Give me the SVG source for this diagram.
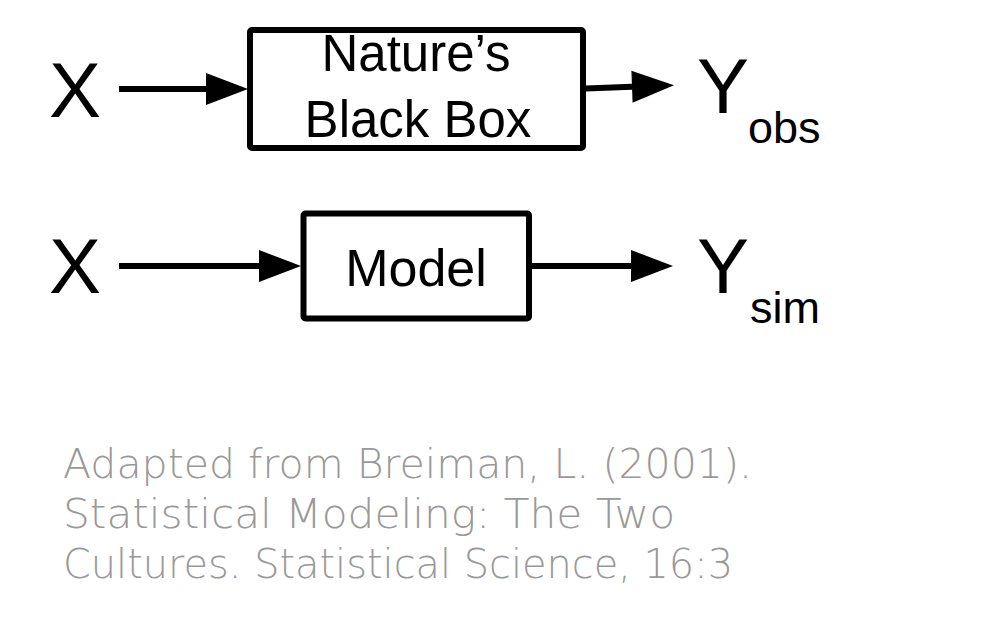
<svg xmlns="http://www.w3.org/2000/svg" width="1008" height="620" viewBox="0 0 1008 620">
<defs>
<style>
.box{fill:#fff;stroke:#000;stroke-width:6;stroke-linejoin:round}
.lbl{font-family:"Liberation Sans",Arial,sans-serif;fill:#000}
.var{font-family:"Liberation Sans",Arial,sans-serif;font-size:78px;fill:#000}
.sub{font-family:"Liberation Sans",Arial,sans-serif;font-size:45px;fill:#000}
.edge{stroke:#000;stroke-width:6;fill:none;marker-end:url(#ah)}
.cap{font-family:"DejaVu Sans","Open Sans",sans-serif;font-weight:200;font-size:40px;fill:#999}
</style>
<marker id="ah" markerUnits="userSpaceOnUse" markerWidth="42" markerHeight="32" refX="0" refY="16" orient="auto" overflow="visible">
<path d="M0,0 L42,16 L0,32 Z" fill="#000"/>
</marker>
</defs>
<rect width="1008" height="620" fill="#fff"/>
<g id="connectors">
<line class="edge" x1="119" y1="89" x2="206" y2="89"/>
<line class="edge" x1="586" y1="88.5" x2="632" y2="86.8"/>
<line class="edge" x1="119" y1="266" x2="259" y2="266"/>
<line class="edge" x1="532" y1="266" x2="631" y2="266"/>
</g>
<g id="x-top"><text class="var" x="49" y="117">X</text></g>
<g id="x-bottom"><text class="var" x="49" y="293">X</text></g>
<g id="nature-box">
<rect class="box" x="250" y="30" width="333" height="118" rx="2"/>
<text class="lbl" font-size="51" text-anchor="middle" x="416" y="71">Nature’s</text>
<text class="lbl" font-size="51" text-anchor="middle" x="418" y="137">Black Box</text>
</g>
<g id="model-box">
<rect class="box" x="303.5" y="213.5" width="225.5" height="105" rx="2"/>
<text class="lbl" font-size="52" text-anchor="middle" x="416" y="286">Model</text>
</g>
<g id="y-obs"><text class="var" x="697" y="113">Y</text><text class="sub" x="748" y="143">obs</text></g>
<g id="y-sim"><text class="var" x="697" y="293">Y</text><text class="sub" x="750" y="323">sim</text></g>
<g id="caption">
<text class="cap" x="63" y="478" textLength="689" lengthAdjust="spacingAndGlyphs">Adapted from Breiman, L. (2001).</text>
<text class="cap" x="63" y="528" textLength="612" lengthAdjust="spacingAndGlyphs">Statistical Modeling: The Two</text>
<text class="cap" x="63" y="578" textLength="670" lengthAdjust="spacingAndGlyphs">Cultures. Statistical Science, 16:3</text>
</g>
</svg>
